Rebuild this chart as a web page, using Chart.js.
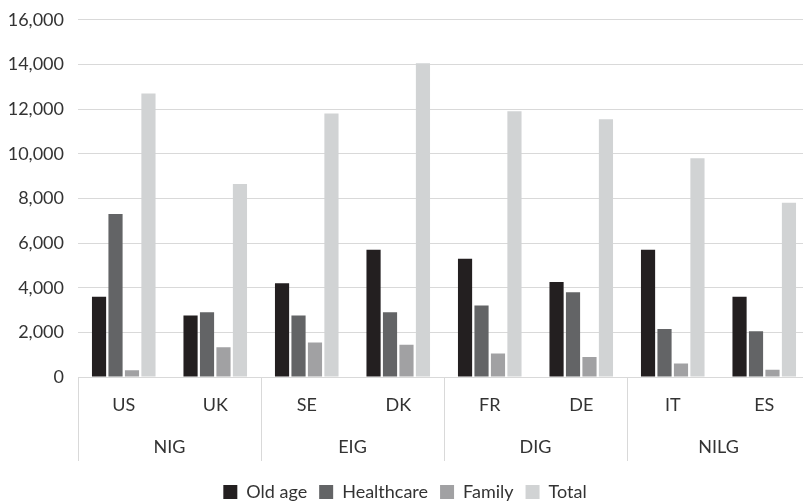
<!DOCTYPE html>
<html>
<head>
<meta charset="utf-8">
<script src="https://cdn.jsdelivr.net/npm/chart.js@4"></script>
<style>
  html, body { margin: 0; padding: 0; background: #fff; overflow: hidden; }
  #wrap { position: relative; top: -5px; width: 812px; height: 516px; }
</style>
</head>
<body>
<div id="wrap"><canvas id="spending"></canvas></div>
<script>
const countries = ['US', 'UK', 'SE', 'DK', 'FR', 'DE', 'IT', 'ES'];
const groups = ['NIG', 'EIG', 'DIG', 'NILG'];
const oldAge = [3600, 2750, 4200, 5700, 5300, 4250, 5700, 3600];
const healthcare = [7300, 2900, 2750, 2900, 3200, 3800, 2150, 2050];
const family = [300, 1330, 1550, 1450, 1050, 900, 600, 330];
const total = [12700, 8650, 11800, 14050, 11900, 11550, 9800, 7800];
const yTicks = [0, 2000, 4000, 6000, 8000, 10000, 12000, 14000, 16000];

const font = { family: 'Lato', size: 18 };
const textColor = '#333333';
const gridColor = '#d9d9d9';

const ctx = document.getElementById('spending').getContext('2d');
new Chart(ctx, {
  type: 'bar',
  data: {
    labels: countries,
    datasets: [
      { label: 'Old age', data: oldAge, backgroundColor: '#231f20' },
      { label: 'Healthcare', data: healthcare, backgroundColor: '#636466' },
      { label: 'Family', data: family, backgroundColor: '#a1a1a3' },
      { label: 'Total', data: total, backgroundColor: '#d1d3d4' }
    ]
  },
  options: {
    responsive: true,
    maintainAspectRatio: false,
    animation: false,
    datasets: {
      bar: { categoryPercentage: 0.72, barPercentage: 0.86 }
    },
    layout: { padding: { top: 7, right: 2, left: 0, bottom: 0 } },
    scales: {
      x: {
        weight: 0,
        // long tick marks act as dividers between the country groups
        grid: {
          offset: true,
          drawOnChartArea: false,
          drawTicks: true,
          tickLength: 84,
          color: (c) => (c.index === undefined || c.index % 2 === 0) ? gridColor : 'transparent'
        },
        border: { display: false },
        afterFit: (scale) => { scale.height = 40; },
        ticks: { font: font, color: textColor, padding: -67 }
      },
      xGroup: {
        type: 'category',
        position: 'bottom',
        weight: 1,
        labels: groups,
        offset: true,
        grid: { display: false, drawTicks: false },
        border: { display: false },
        afterFit: (scale) => { scale.height = 54; },
        ticks: { font: font, color: textColor, padding: 19 }
      },
      y: {
        min: 0,
        max: 16000,
        afterBuildTicks: (scale) => {
          scale.ticks = yTicks.map(v => ({ value: v }));
        },
        afterFit: (scale) => { scale.width = 78; },
        grid: { color: gridColor, drawTicks: false },
        border: { display: false },
        ticks: {
          font: font,
          color: textColor,
          padding: 14,
          callback: (v) => v.toLocaleString('en-US')
        }
      }
    },
    plugins: {
      legend: {
        position: 'bottom',
        labels: { font: font, color: textColor, boxWidth: 14, boxHeight: 14, padding: 12 }
      },
      tooltip: { enabled: false }
    }
  }
});
</script>
</body>
</html>
